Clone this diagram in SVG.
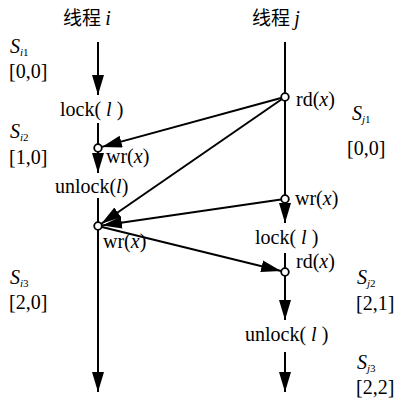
<svg xmlns="http://www.w3.org/2000/svg" width="395" height="402" viewBox="0 0 395 402">
<style>
.t{font-family:"Liberation Serif","DejaVu Serif","Times New Roman",serif;font-size:20px;fill:#000}
.cj{font-family:"Noto Sans CJK SC","Liberation Serif",serif;font-size:19px;fill:#000}
.it{font-style:italic}
.sub{font-size:11px}
.ln{stroke:#000;stroke-width:2;fill:none}
.nd{fill:#fff;stroke:#000;stroke-width:1.8}
</style>
<defs>
<marker id="ah" markerUnits="userSpaceOnUse" markerWidth="22" markerHeight="14" refX="20" refY="6" orient="auto">
<path d="M0,0 L20,6 L0,12 z" fill="#000"/>
</marker>
</defs>
<rect width="395" height="402" fill="#fff"/>
<g id="titles">
<text class="cj" x="63" y="25">线程 <tspan class="t it">i</tspan></text>
<text class="cj" x="252" y="25">线程 <tspan class="t it">j</tspan></text>
</g>
<g id="connectors">
<line class="ln" x1="98" y1="42" x2="98" y2="95" marker-end="url(#ah)"/>
<line class="ln" x1="98" y1="123" x2="98" y2="144"/>
<line class="ln" x1="98" y1="152" x2="98" y2="173" marker-end="url(#ah)"/>
<line class="ln" x1="98" y1="198" x2="98" y2="392" marker-end="url(#ah)"/>
<line class="ln" x1="285" y1="42" x2="285" y2="223" marker-end="url(#ah)"/>
<line class="ln" x1="285" y1="253" x2="285" y2="320" marker-end="url(#ah)"/>
<line class="ln" x1="285" y1="352" x2="285" y2="392" marker-end="url(#ah)"/>
<line class="ln" x1="281" y1="98" x2="101.9" y2="146.9" marker-end="url(#ah)"/>
<line class="ln" x1="281.7" y1="99.3" x2="101.3" y2="223.7" marker-end="url(#ah)"/>
<line class="ln" x1="281" y1="199.6" x2="102" y2="225.4" marker-end="url(#ah)"/>
<line class="ln" x1="101.9" y1="227" x2="281.1" y2="271" marker-end="url(#ah)"/>
</g>
<g id="node-i-wr1"><circle class="nd" cx="98" cy="148" r="3.8"/><text class="t" x="106" y="163">wr(<tspan class="it">x</tspan>)</text></g>
<g id="node-i-wr2"><circle class="nd" cx="98" cy="226" r="3.8"/><text class="t" x="103" y="248">wr(<tspan class="it">x</tspan>)</text></g>
<g id="node-j-rd1"><circle class="nd" cx="285" cy="97" r="3.8"/><text class="t" x="296" y="106">rd(<tspan class="it">x</tspan>)</text></g>
<g id="node-j-wr"><circle class="nd" cx="285" cy="199" r="3.8"/><text class="t" x="295" y="205">wr(<tspan class="it">x</tspan>)</text></g>
<g id="node-j-rd2"><circle class="nd" cx="285" cy="272" r="3.8"/><text class="t" x="296" y="268">rd(<tspan class="it">x</tspan>)</text></g>
<g id="ops">
<text class="t" x="60" y="116">lock( <tspan class="it">l</tspan> )</text>
<text class="t" x="55" y="193">unlock(<tspan class="it">l</tspan>)</text>
<text class="t" x="255" y="244">lock( <tspan class="it">l</tspan> )</text>
<text class="t" x="245" y="341">unlock( <tspan class="it">l</tspan> )</text>
</g>
<g id="states">
<text class="t" x="10" y="53"><tspan class="it">S</tspan><tspan class="sub it" dy="3">i</tspan><tspan class="sub">1</tspan></text>
<text class="t" x="9" y="78">[0,0]</text>
<text class="t" x="10" y="138"><tspan class="it">S</tspan><tspan class="sub it" dy="3">i</tspan><tspan class="sub">2</tspan></text>
<text class="t" x="9" y="164">[1,0]</text>
<text class="t" x="10" y="284"><tspan class="it">S</tspan><tspan class="sub it" dy="3">i</tspan><tspan class="sub">3</tspan></text>
<text class="t" x="9" y="309">[2,0]</text>
<text class="t" x="352" y="120"><tspan class="it">S</tspan><tspan class="sub it" dy="3">j</tspan><tspan class="sub">1</tspan></text>
<text class="t" x="347" y="155">[0,0]</text>
<text class="t" x="357" y="284"><tspan class="it">S</tspan><tspan class="sub it" dy="3">j</tspan><tspan class="sub">2</tspan></text>
<text class="t" x="356" y="310">[2,1]</text>
<text class="t" x="357" y="369"><tspan class="it">S</tspan><tspan class="sub it" dy="3">j</tspan><tspan class="sub">3</tspan></text>
<text class="t" x="356" y="394">[2,2]</text>
</g>
</svg>
